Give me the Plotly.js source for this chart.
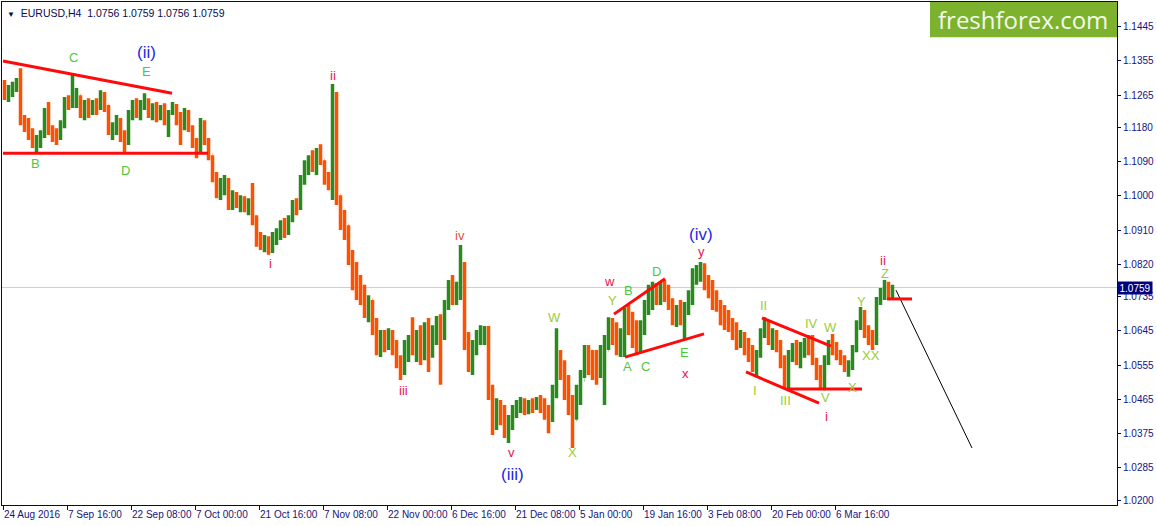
<!DOCTYPE html>
<html>
<head>
<meta charset="utf-8">
<script src="https://cdn.plot.ly/plotly-3.0.1.min.js"></script>
<style>
  html, body { margin: 0; padding: 0; background: #fff; }
  #chart { width: 1157px; height: 526px; }
</style>
</head>
<body>
<div id="chart"></div>
<script>
// EURUSD H4, one point per 4 bars
var barOpen = [
  1.1278,1.1265,1.1273,1.1289,1.1300,1.1199,1.1186,1.1160,1.1142,1.1152,
  1.1160,1.1213,1.1173,1.1160,1.1152,1.1186,1.1247,1.1239,1.1257,1.1265,
  1.1221,1.1239,1.1226,1.1247,1.1231,1.1265,1.1239,1.1173,1.1178,1.1194,
  1.1160,1.1147,1.1213,1.1239,1.1221,1.1244,1.1252,1.1221,1.1231,1.1213,
  1.1226,1.1205,1.1221,1.1236,1.1205,1.1186,1.1213,1.1178,1.1134,1.1120,
  1.1194,1.1147,1.1107,1.1055,1.1015,1.1029,1.1042,1.0984,1.0999,1.0978,
  1.0989,1.0968,1.0984,1.0936,1.0884,1.0871,1.0884,1.0863,1.0889,1.0905,
  1.0921,1.0910,1.0936,1.0976,1.0968,1.1042,1.1081,1.1094,1.1081,1.1115,
  1.1094,1.1047,1.1002,1.1226,1.1002,1.0936,1.0923,1.0844,1.0779,1.0752,
  1.0739,1.0700,1.0726,1.0652,1.0608,1.0634,1.0616,1.0634,1.0600,1.0563,
  1.0537,1.0595,1.0621,1.0608,1.0621,1.0595,1.0634,1.0595,1.0642,1.0668,
  1.0634,1.0713,1.0766,1.0739,1.0752,1.0805,1.0621,1.0568,1.0595,1.0634,
  1.0642,1.0647,1.0489,1.0411,1.0442,1.0411,1.0384,1.0397,1.0437,1.0450,
  1.0458,1.0442,1.0455,1.0445,1.0463,1.0450,1.0432,1.0411,1.0489,1.0568,
  1.0537,1.0503,1.0450,1.0411,1.0476,1.0516,1.0581,1.0568,1.0547,1.0529,
  1.0589,1.0595,1.0660,1.0626,1.0608,1.0634,1.0687,1.0660,1.0621,1.0608,
  1.0647,1.0713,1.0739,1.0752,1.0731,1.0758,1.0739,1.0713,1.0679,1.0695,
  1.0679,1.0700,1.0726,1.0792,1.0805,1.0810,1.0774,1.0752,1.0726,1.0705,
  1.0679,1.0668,1.0652,1.0639,1.0616,1.0626,1.0600,1.0581,1.0555,1.0581,
  1.0634,1.0668,1.0621,1.0634,1.0608,1.0568,1.0529,1.0581,1.0595,1.0581,
  1.0600,1.0608,1.0595,1.0568,1.0537,1.0521,1.0568,1.0608,1.0600,1.0581,
  1.0568,1.0547,1.0555,1.0595,1.0660,1.0687,1.0642,1.0626,1.0616,1.0726,
  1.0747,1.0766,1.0745
];
var barHigh = [
  1.1305,1.1292,1.1300,1.1310,1.1336,1.1213,1.1205,1.1178,1.1160,1.1173,
  1.1231,1.1247,1.1186,1.1178,1.1199,1.1260,1.1265,1.1323,1.1284,1.1265,
  1.1252,1.1257,1.1252,1.1257,1.1278,1.1273,1.1239,1.1194,1.1213,1.1205,
  1.1173,1.1226,1.1252,1.1257,1.1252,1.1270,1.1257,1.1244,1.1247,1.1239,
  1.1244,1.1226,1.1247,1.1242,1.1221,1.1231,1.1226,1.1186,1.1152,1.1205,
  1.1199,1.1152,1.1107,1.1063,1.1047,1.1055,1.1047,1.1015,1.1010,1.1002,
  1.0999,1.0994,1.1034,1.0949,1.0905,1.0897,1.0894,1.0905,1.0915,1.0936,
  1.0942,1.0949,1.0989,1.0994,1.1055,1.1094,1.1107,1.1120,1.1126,1.1136,
  1.1094,1.1063,1.1294,1.1273,1.1002,1.0963,1.0923,1.0858,1.0826,1.0792,
  1.0766,1.0739,1.0726,1.0679,1.0647,1.0647,1.0652,1.0647,1.0621,1.0581,
  1.0621,1.0634,1.0681,1.0647,1.0660,1.0668,1.0679,1.0660,1.0684,1.0689,
  1.0726,1.0779,1.0792,1.0774,1.0871,1.0826,1.0642,1.0621,1.0647,1.0660,
  1.0658,1.0658,1.0503,1.0468,1.0463,1.0450,1.0424,1.0450,1.0463,1.0471,
  1.0468,1.0463,1.0468,1.0471,1.0476,1.0468,1.0450,1.0503,1.0652,1.0595,
  1.0568,1.0529,1.0476,1.0503,1.0542,1.0608,1.0608,1.0595,1.0595,1.0608,
  1.0634,1.0681,1.0679,1.0668,1.0652,1.0705,1.0713,1.0695,1.0673,1.0673,
  1.0726,1.0766,1.0774,1.0771,1.0774,1.0779,1.0766,1.0731,1.0713,1.0726,
  1.0721,1.0752,1.0810,1.0818,1.0826,1.0823,1.0792,1.0779,1.0752,1.0726,
  1.0713,1.0700,1.0679,1.0668,1.0647,1.0642,1.0626,1.0608,1.0595,1.0652,
  1.0681,1.0673,1.0652,1.0647,1.0621,1.0581,1.0595,1.0613,1.0621,1.0616,
  1.0626,1.0634,1.0634,1.0574,1.0555,1.0581,1.0621,1.0637,1.0616,1.0595,
  1.0581,1.0568,1.0608,1.0673,1.0708,1.0700,1.0660,1.0647,1.0734,1.0758,
  1.0779,1.0774,1.0766
];
var barLow = [
  1.1252,1.1247,1.1260,1.1273,1.1186,1.1168,1.1147,1.1126,1.1115,1.1126,
  1.1152,1.1160,1.1142,1.1134,1.1147,1.1178,1.1226,1.1231,1.1231,1.1205,
  1.1199,1.1205,1.1213,1.1213,1.1226,1.1221,1.1160,1.1147,1.1160,1.1142,
  1.1115,1.1134,1.1199,1.1205,1.1199,1.1226,1.1205,1.1199,1.1194,1.1199,
  1.1186,1.1155,1.1213,1.1186,1.1134,1.1173,1.1168,1.1126,1.1099,1.1115,
  1.1134,1.1094,1.1036,1.0994,1.0989,1.1002,1.0963,1.0963,1.0968,1.0957,
  1.0957,1.0949,1.0923,1.0866,1.0858,1.0852,1.0845,1.0850,1.0871,1.0884,
  1.0889,1.0897,1.0931,1.0949,1.0963,1.1029,1.1055,1.1063,1.1055,1.1081,
  1.1029,1.1015,1.0989,1.0976,1.0910,1.0884,1.0818,1.0752,1.0726,1.0713,
  1.0679,1.0668,1.0634,1.0581,1.0576,1.0589,1.0595,1.0581,1.0547,1.0516,
  1.0529,1.0563,1.0581,1.0563,1.0555,1.0568,1.0537,1.0574,1.0608,1.0503,
  1.0621,1.0700,1.0713,1.0713,1.0726,1.0595,1.0537,1.0529,1.0581,1.0608,
  1.0608,1.0463,1.0371,1.0384,1.0397,1.0363,1.0350,1.0384,1.0416,1.0429,
  1.0424,1.0426,1.0429,1.0437,1.0429,1.0411,1.0376,1.0405,1.0468,1.0516,
  1.0463,1.0424,1.0337,1.0411,1.0450,1.0521,1.0529,1.0516,1.0503,1.0521,
  1.0450,1.0595,1.0608,1.0581,1.0576,1.0576,1.0634,1.0600,1.0581,1.0589,
  1.0634,1.0687,1.0700,1.0713,1.0713,1.0721,1.0700,1.0660,1.0655,1.0660,
  1.0621,1.0687,1.0713,1.0766,1.0774,1.0752,1.0731,1.0700,1.0695,1.0660,
  1.0647,1.0642,1.0621,1.0595,1.0600,1.0581,1.0563,1.0537,1.0524,1.0574,
  1.0626,1.0608,1.0595,1.0589,1.0547,1.0495,1.0489,1.0563,1.0555,1.0547,
  1.0574,1.0581,1.0555,1.0516,1.0495,1.0489,1.0555,1.0581,1.0568,1.0555,
  1.0537,1.0524,1.0542,1.0589,1.0647,1.0626,1.0608,1.0595,1.0608,1.0713,
  1.0726,1.0726,1.0731
];
var barClose = [
  1.1265,1.1273,1.1289,1.1300,1.1199,1.1186,1.1160,1.1142,1.1152,1.1160,
  1.1213,1.1173,1.1160,1.1152,1.1186,1.1247,1.1239,1.1257,1.1265,1.1221,
  1.1239,1.1226,1.1247,1.1231,1.1265,1.1239,1.1173,1.1178,1.1194,1.1160,
  1.1147,1.1213,1.1239,1.1221,1.1244,1.1252,1.1221,1.1231,1.1213,1.1226,
  1.1205,1.1221,1.1236,1.1205,1.1186,1.1213,1.1178,1.1134,1.1120,1.1194,
  1.1147,1.1107,1.1055,1.1015,1.1029,1.1042,1.0984,1.0999,1.0978,1.0989,
  1.0968,1.0984,1.0936,1.0884,1.0871,1.0884,1.0863,1.0889,1.0905,1.0921,
  1.0910,1.0936,1.0976,1.0968,1.1042,1.1081,1.1094,1.1081,1.1115,1.1094,
  1.1047,1.1036,1.1226,1.1002,1.0936,1.0923,1.0844,1.0779,1.0752,1.0739,
  1.0700,1.0726,1.0652,1.0608,1.0634,1.0616,1.0634,1.0600,1.0563,1.0537,
  1.0595,1.0621,1.0608,1.0621,1.0595,1.0634,1.0595,1.0642,1.0668,1.0634,
  1.0713,1.0766,1.0739,1.0752,1.0805,1.0621,1.0568,1.0595,1.0634,1.0642,
  1.0647,1.0489,1.0411,1.0442,1.0411,1.0384,1.0397,1.0437,1.0450,1.0458,
  1.0442,1.0455,1.0445,1.0463,1.0450,1.0432,1.0411,1.0489,1.0568,1.0537,
  1.0503,1.0450,1.0411,1.0476,1.0516,1.0581,1.0568,1.0547,1.0529,1.0589,
  1.0595,1.0660,1.0626,1.0608,1.0634,1.0687,1.0660,1.0621,1.0608,1.0647,
  1.0713,1.0739,1.0752,1.0731,1.0758,1.0739,1.0713,1.0679,1.0695,1.0679,
  1.0700,1.0726,1.0792,1.0805,1.0810,1.0774,1.0752,1.0726,1.0705,1.0679,
  1.0668,1.0652,1.0639,1.0616,1.0626,1.0600,1.0581,1.0555,1.0581,1.0634,
  1.0668,1.0621,1.0634,1.0608,1.0568,1.0529,1.0581,1.0595,1.0581,1.0600,
  1.0608,1.0595,1.0568,1.0537,1.0521,1.0568,1.0608,1.0600,1.0581,1.0568,
  1.0547,1.0555,1.0595,1.0660,1.0687,1.0642,1.0626,1.0616,1.0726,1.0747,
  1.0766,1.0745,1.0759
];

// bar index of each date label (H4 bars) and the labels
var dateTicks = [0, 64, 128, 192, 256, 320, 384, 448, 512, 576, 640, 704, 768, 832];
var dateLabels = ['24 Aug 2016', '7 Sep 16:00', '22 Sep 08:00', '7 Oct 00:00', '21 Oct 16:00',
  '7 Nov 08:00', '22 Nov 00:00', '6 Dec 16:00', '21 Dec 08:00', '5 Jan 00:00',
  '19 Jan 16:00', '3 Feb 08:00', '20 Feb 00:00', '6 Mar 16:00'];
var priceTicks = [1.1445, 1.1355, 1.1265, 1.1180, 1.1090, 1.1000, 1.0910, 1.0820,
  1.0735, 1.0645, 1.0555, 1.0465, 1.0375, 1.0285, 1.0200];
var lastPrice = 1.0759;

// wave labels: [text, bar index, price, kind]
var waveLabels = [
  ['C', 70, 1.1365, 'g'], ['(ii)', 143, 1.1376, 'b'], ['E', 143, 1.1328, 'g'],
  ['B', 32, 1.1086, 'g'], ['D', 122, 1.1068, 'g'],
  ['ii', 330, 1.1318, 'r'], ['i', 267, 1.0821, 'r'], ['iv', 457, 1.0897, 'o'],
  ['iii', 400, 1.0487, 'r'], ['v', 508, 1.0326, 'r'], ['(iii)', 509, 1.0268, 'b'],
  ['W', 551, 1.0681, 'y'], ['X', 569, 1.0324, 'y'],
  ['w', 606, 1.0776, 'r'], ['Y', 609, 1.0724, 'y'], ['B', 625, 1.0750, 'g'],
  ['D', 653, 1.0802, 'g'], ['A', 624, 1.0550, 'g'], ['C', 642, 1.0552, 'g'],
  ['E', 681, 1.0587, 'g'], ['x', 682, 1.0534, 'r'], ['y', 698, 1.0855, 'r'],
  ['(iv)', 698, 1.0899, 'b'],
  ['I', 752, 1.0489, 'y'], ['II', 760, 1.0713, 'y'], ['III', 782, 1.0463, 'y'],
  ['IV', 808, 1.0665, 'y'], ['W', 827, 1.0655, 'y'], ['V', 822, 1.0471, 'y'],
  ['i', 823, 1.0421, 'r'], ['X', 849, 1.0495, 'y'], ['Y', 858, 1.0721, 'y'],
  ['XX', 868, 1.0581, 'y'], ['Z', 882, 1.0797, 'y'], ['ii', 880, 1.0831, 'r']
];

// drawn trend lines: [bar0, price0, bar1, price1]
var trendLines = [
  [0, 1.1355, 169, 1.1270], [0, 1.1112, 205, 1.1112],
  [611, 1.0689, 662, 1.0782], [622, 1.0576, 701, 1.0637],
  [759, 1.0679, 828, 1.0605], [743, 1.0537, 816, 1.0455],
  [784, 1.0492, 859, 1.0492], [884, 1.0729, 909, 1.0729]
];

var xs = barClose.map(function (c, i) { return i * 4 + 1.5; });

var trace = {
  type: 'ohlc',
  x: xs,
  open: barOpen,
  high: barHigh,
  low: barLow,
  close: barClose,
  tickwidth: 0.1,
  increasing: { line: { color: '#2b8a1e', width: 3.5 } },
  decreasing: { line: { color: '#ff5000', width: 3.5 } },
  hoverinfo: 'skip'
};

var colorOf = { g: '#4cc93a', y: '#9ccc35', r: '#e8104e', o: '#e8503a', b: '#1f1fe6' };

var annotations = waveLabels.map(function (w) {
  return {
    text: w[0], x: w[1], y: w[2], xref: 'x', yref: 'y', showarrow: false,
    font: { family: 'Liberation Sans, Arial, sans-serif', size: w[3] == 'b' ? 17 : 13, color: colorOf[w[3]] }
  };
});

annotations.push({
  text: '<span style="font-size:8px">▼</span>  EURUSD,H4  1.0756 1.0759 1.0756 1.0759',
  xref: 'paper', yref: 'paper', x: 0.003, y: 0.995, xanchor: 'left', yanchor: 'top', showarrow: false,
  font: { family: 'Liberation Sans, Arial, sans-serif', size: 10.5, color: '#0a0a50' }
});
annotations.push({
  text: 'freshforex.com',
  xref: 'paper', yref: 'paper', x: 0.916, y: 0.966, xanchor: 'center', yanchor: 'middle', showarrow: false,
  font: { family: 'Open Sans, sans-serif', size: 24, color: '#f4f8ea' }
});
annotations.push({
  text: lastPrice.toFixed(4),
  xref: 'paper', yref: 'y', x: 1, y: lastPrice, xanchor: 'left', yanchor: 'middle', showarrow: false,
  bgcolor: '#000080', borderpad: 0, width: 34, height: 12,
  font: { family: 'Liberation Sans, Arial, sans-serif', size: 10, color: '#ffffff' }
});

var shapes = [
  { type: 'line', xref: 'paper', yref: 'y', x0: 0, x1: 1, y0: lastPrice, y1: lastPrice,
    line: { color: '#cfcfcf', width: 1 }, layer: 'below' },
  { type: 'rect', xref: 'paper', yref: 'paper', x0: 0.8323, x1: 1, y0: 0.930, y1: 1,
    fillcolor: '#7cb22e', line: { width: 0 } },
  { type: 'line', xref: 'x', yref: 'y', x0: 893, y0: 1.0752, x1: 969, y1: 1.0337,
    line: { color: '#000000', width: 1 } }
];
trendLines.forEach(function (t) {
  shapes.push({ type: 'line', xref: 'x', yref: 'y', x0: t[0], y0: t[1], x1: t[2], y1: t[3],
    line: { color: '#ff0a0a', width: 3 } });
});

var layout = {
  width: 1157, height: 526,
  margin: { l: 2, r: 40, t: 2, b: 21 },
  paper_bgcolor: '#ffffff', plot_bgcolor: '#ffffff',
  showlegend: false, hovermode: false,
  font: { family: 'Liberation Sans, Arial, sans-serif', size: 10, color: '#141480' },
  xaxis: {
    type: 'linear', range: [-1, 1114], rangeslider: { visible: false },
    tickvals: dateTicks, ticktext: dateLabels, ticks: 'outside', ticklen: 4, tickcolor: '#000080',
    ticklabelposition: 'outside right', tickangle: 0, showgrid: false, zeroline: false,
    showline: true, linecolor: '#000080', linewidth: 1, mirror: true,
    tickfont: { size: 10, color: '#141480' }
  },
  yaxis: {
    side: 'right', range: [1.0187, 1.1510], tickvals: priceTicks,
    ticktext: priceTicks.map(function (p) { return p.toFixed(4); }),
    ticks: 'outside', ticklen: 3, tickcolor: '#000080', showgrid: false, zeroline: false,
    showline: true, linecolor: '#000080', linewidth: 1, mirror: true,
    tickfont: { size: 10, color: '#141480' }
  },
  annotations: annotations,
  shapes: shapes
};

Plotly.newPlot('chart', [trace], layout, { staticPlot: true, displayModeBar: false });
</script>
</body>
</html>
